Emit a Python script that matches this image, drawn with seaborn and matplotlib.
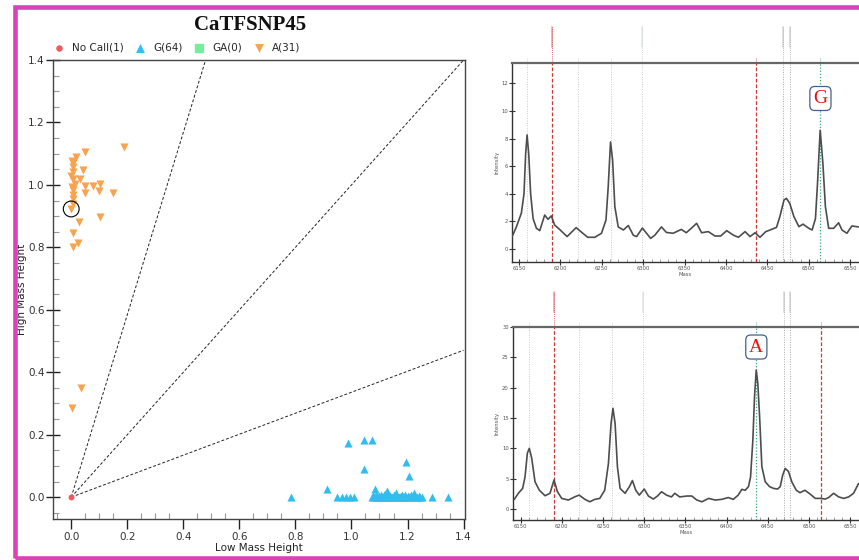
import matplotlib
matplotlib.use('Agg')
import matplotlib.pyplot as plt
import matplotlib.patches as patches
from matplotlib.ticker import MultipleLocator
import seaborn as sns
import pandas as pd

# cluster plot data (low mass height, high mass height)
a_x = [0.189, 0.049, 0.018, 0.005, 0.005, 0.042, 0.005, 0.032, 0.005, 0.014, 0.050,
       0.077, 0.104, 0.098, 0.050, 0.005, 0.149, 0.005, 0.005, 0.000, 0.104, 0.027,
       0.005, 0.025, 0.005, 0.002, 0.035, 0.000, 0.002, 0.008, 0.003]
a_y = [1.123, 1.107, 1.091, 1.069, 1.057, 1.048, 1.040, 1.018, 1.020, 1.003, 0.997,
       0.995, 1.003, 0.982, 0.973, 0.985, 0.973, 0.968, 0.955, 0.923, 0.898, 0.882,
       0.847, 0.815, 0.802, 0.286, 0.348, 1.030, 0.993, 0.940, 1.078]
g_x = [0.785, 0.912, 0.989, 1.046, 1.073, 1.044, 1.196, 1.206, 1.085, 1.127, 1.160, 1.223, 1.289, 1.346,
       0.950, 0.965, 0.980, 0.995, 1.010,
       1.075, 1.078, 1.082, 1.086, 1.090, 1.094, 1.098, 1.100, 1.104, 1.108,
       1.112, 1.115, 1.118, 1.120, 1.124, 1.128, 1.132, 1.135, 1.138, 1.142,
       1.146, 1.150, 1.153, 1.156, 1.160, 1.164, 1.168, 1.172, 1.176, 1.180,
       1.184, 1.188, 1.192, 1.196, 1.200, 1.205, 1.210, 1.214, 1.218, 1.222,
       1.228, 1.234, 1.240, 1.246, 1.252]
g_y = [0.000, 0.026, 0.173, 0.182, 0.182, 0.089, 0.113, 0.068, 0.025, 0.020, 0.012, 0.012, 0.000, 0.000,
       0.000, 0.000, 0.002, 0.000, 0.000,
       0.000, 0.004, 0.000, 0.006, 0.002, 0.000, 0.004, 0.000, 0.008, 0.002,
       0.000, 0.006, 0.010, 0.004, 0.000, 0.002, 0.006, 0.000, 0.004, 0.000,
       0.002, 0.008, 0.000, 0.004, 0.006, 0.000, 0.002, 0.000, 0.004, 0.008,
       0.000, 0.002, 0.006, 0.000, 0.004, 0.002, 0.000, 0.008, 0.004, 0.000,
       0.002, 0.000, 0.004, 0.000, 0.000]
nocall_x = [0.0]
nocall_y = [0.0]
selected_x = [0.0]
selected_y = [0.923]
boundary_slopes = [2.92, 1.0, 0.336]
legend_labels = ['No Call(1)', 'G(64)', 'GA(0)', 'A(31)']

# mass spectra (mass, intensity)
mass_g = [6140.7, 6146.8, 6152.8, 6156, 6158, 6159.7, 6161.7, 6164, 6167, 6171, 6175, 6181, 6185,
          6189, 6193, 6199, 6208, 6219, 6227, 6233, 6241.5, 6249.6, 6255, 6257.7, 6260.5, 6263,
          6265.7, 6269.8, 6276, 6282, 6288, 6292, 6299, 6304, 6309, 6314, 6322, 6328, 6336, 6346,
          6352, 6358, 6364.5, 6370.5, 6378.6, 6386.7, 6393.5, 6400.8, 6408.9, 6415, 6423, 6429,
          6435, 6441, 6448, 6455, 6461, 6465, 6470, 6473, 6477, 6482, 6488, 6493, 6500, 6504,
          6508, 6510.5, 6513.7, 6517, 6520, 6524, 6530, 6536, 6540, 6546, 6552, 6560]
int_g = [0.77, 1.6, 2.6, 4.0, 6.9, 8.26, 6.9, 4.0, 2.2, 1.5, 1.33, 2.46, 2.15, 2.4, 1.74, 1.42,
         0.9, 1.55, 1.14, 0.85, 0.85, 1.14, 2.1, 4.5, 7.75, 6.45, 3.07, 1.6, 1.38, 1.7, 1.0, 0.9,
         1.52, 1.14, 0.77, 1.0, 1.6, 1.2, 1.14, 1.42, 1.18, 1.5, 1.86, 1.18, 1.26, 0.94, 0.94,
         1.33, 1.0, 0.85, 1.26, 0.9, 1.18, 0.85, 1.26, 1.42, 1.57, 2.34, 3.55, 3.67, 3.3, 2.34,
         1.62, 1.8, 1.5, 1.38, 2.2, 4.76, 8.6, 6.2, 3.07, 1.5, 1.5, 1.9, 1.38, 1.14, 1.67, 1.6]
mass_a = [6142.3, 6147.2, 6152.4, 6155.3, 6158.1, 6160.5, 6163.4, 6167.4, 6172.7, 6179.6, 6185.6,
          6190.5, 6194.5, 6199.8, 6207.9, 6216, 6221, 6228, 6234, 6240, 6246, 6252, 6256.5, 6259.7,
          6262, 6264.6, 6267.4, 6270.7, 6276.7, 6282, 6285.6, 6289.7, 6294, 6300, 6305, 6311, 6316,
          6321, 6327, 6333, 6337, 6343, 6351.6, 6357.7, 6363.8, 6370, 6378, 6386, 6394, 6402, 6408,
          6414, 6418.4, 6422.5, 6426.5, 6429, 6431.8, 6433.8, 6435.9, 6437.8, 6440, 6442.7, 6446.8,
          6452, 6457, 6461.8, 6465, 6468, 6471, 6475, 6479, 6484.5, 6489, 6495, 6501, 6507.5,
          6513.6, 6519.7, 6523.7, 6529.8, 6536, 6542, 6548, 6554, 6560]
int_a = [1.6, 2.6, 3.4, 5.3, 9.2, 10.0, 8.4, 4.5, 3.1, 2.2, 2.6, 4.8, 2.9, 1.76, 1.49, 2.04, 2.3,
         1.6, 1.2, 1.6, 1.76, 3.1, 7.5, 14.1, 16.6, 14.1, 7.0, 3.4, 2.6, 3.7, 4.7, 3.1, 2.3, 3.3,
         2.15, 1.65, 2.15, 2.86, 2.3, 2.0, 2.6, 2.0, 2.15, 2.15, 1.49, 1.2, 1.76, 1.49, 1.6, 1.9,
         1.6, 2.3, 3.25, 3.1, 3.7, 5.3, 11.4, 18.5, 22.9, 20.7, 15.2, 7.0, 4.5, 3.7, 3.4, 3.3, 3.7,
         5.6, 6.7, 6.2, 4.5, 3.1, 2.7, 3.1, 2.5, 1.76, 1.76, 1.65, 1.9, 2.6, 2.0, 1.76, 2.0, 2.6, 4.2]
marker_mass = [6160, 6190, 6221, 6261, 6299, 6436, 6469, 6477, 6514]
marker_labelled = [False, True, False, False, True, False, True, True, False]

RED = '#cc3b3b'
GREEN = '#3aa57a'
LIGHT = '#c4cccc'
GREYL = '#a8a8a8'
top_marker_colors = [LIGHT, RED, LIGHT, LIGHT, LIGHT, RED, GREYL, GREYL, GREEN]
bot_marker_colors = [LIGHT, RED, LIGHT, LIGHT, LIGHT, GREEN, GREYL, GREYL, RED]

sns.set_theme(style='white')
plt.rcParams['font.family'] = ['DejaVu Sans']

fig = plt.figure(figsize=(8.59, 5.60), dpi=100)

# ---------------- cluster plot ----------------
ax = fig.add_axes([0.0617, 0.0732, 0.4796, 0.8196])
for s in boundary_slopes:
    x_end = min(1.4, 1.4 / s)
    ax.plot([0, x_end], [0, x_end * s], color='#222222', lw=0.7, ls=(0, (3, 2)), zorder=1)

sns.scatterplot(x=nocall_x, y=nocall_y, ax=ax, marker='o', color='#ee5a5e', s=18,
                linewidth=0, label=legend_labels[0], zorder=3)
sns.scatterplot(x=g_x, y=g_y, ax=ax, marker='^', color='#33bdee', s=34,
                linewidth=0, label=legend_labels[1], zorder=3)
ax.scatter([], [], marker='s', color='#74ee9c', s=34, label=legend_labels[2])
sns.scatterplot(x=a_x, y=a_y, ax=ax, marker='v', color='#f7a34f', s=34,
                linewidth=0, label=legend_labels[3], zorder=3)
ax.scatter(selected_x, selected_y, marker='o', s=130, facecolors='none',
           edgecolors='black', linewidths=0.8, zorder=4)

handles, labels = ax.get_legend_handles_labels()
order = [labels.index(l) for l in legend_labels]
ax.legend([handles[i] for i in order], legend_labels, loc='lower left',
          bbox_to_anchor=(-0.025, 1.003), ncol=4, frameon=False, fontsize=7.5,
          handletextpad=0.25, columnspacing=0.6, borderaxespad=0.15, markerscale=1.1)

ax.set_xlim(-0.065, 1.405)
ax.set_ylim(-0.07, 1.4)
ax.xaxis.set_major_locator(MultipleLocator(0.2))
ax.yaxis.set_major_locator(MultipleLocator(0.2))
ax.xaxis.set_minor_locator(MultipleLocator(0.05))
ax.yaxis.set_minor_locator(MultipleLocator(0.05))
ax.xaxis.set_major_formatter(matplotlib.ticker.FormatStrFormatter('%.1f'))
ax.yaxis.set_major_formatter(matplotlib.ticker.FormatStrFormatter('%.1f'))
ax.tick_params(axis='x', which='major', direction='out', length=7, width=1,
               color='#222222', labelsize=7.5, labelcolor='#333333', pad=2, bottom=True)
ax.tick_params(axis='y', which='major', direction='inout', length=10, width=1,
               color='#222222', labelsize=7.5, labelcolor='#333333', pad=1, left=True)
ax.tick_params(which='minor', direction='in', length=4, width=0.8, color='#999999',
               bottom=True, left=True)
for sp in ax.spines.values():
    sp.set_color('#444444')
    sp.set_linewidth(1.0)
ax.set_xlabel('Low Mass Height', fontsize=7.5, color='#222222')
ax.set_ylabel('High Mass Height', fontsize=7.5, color='#222222')
ax.xaxis.set_label_coords(0.5, -0.052)
ax.yaxis.set_label_coords(-0.063, 0.5)

fig.text(250 / 859, 1 - 25 / 560, 'CaTFSNP45', family='Liberation Serif',
         fontweight='bold', fontsize=15, ha='center', va='center', color='#111111')


# ---------------- spectra ----------------
def draw_spectrum(rect, mass, inten, xlim, ylim, ystep, colors, letter, letter_xy):
    sax = fig.add_axes(rect)
    df = pd.DataFrame({'Mass': mass, 'Intensity': inten})
    for m, c, lab in zip(marker_mass, colors, marker_labelled):
        ls = (0, (3, 1.5)) if c == RED else (0, (1, 1.5))
        sax.axvline(m, color=c, lw=0.9 if c in (RED, GREEN) else 0.7, ls=ls, zorder=1)
        top = 1.18 if lab else 1.03
        sax.axvline(m, ymin=1.0, ymax=top, color=c, lw=0.6, ls=(0, (1, 1.5)), clip_on=False)
        if lab:
            sax.axvline(m, ymin=1.08, ymax=1.18, color=c, lw=1.3, alpha=0.4, clip_on=False)
    sns.lineplot(data=df, x='Mass', y='Intensity', ax=sax, color='#4d4d4d', lw=1.2,
                 sort=False, estimator=None, zorder=3)
    sax.set_xlim(*xlim)
    sax.set_ylim(*ylim)
    sax.xaxis.set_major_locator(MultipleLocator(50))
    sax.xaxis.set_minor_locator(MultipleLocator(10))
    sax.yaxis.set_major_locator(MultipleLocator(ystep))
    sax.tick_params(which='major', direction='inout', length=4, width=0.8, color='#333333',
                    labelsize=3.8, labelcolor='#555555', pad=1, bottom=True, left=True)
    sax.tick_params(which='minor', axis='x', direction='in', length=2, width=0.5,
                    color='#777777', bottom=True)
    sax.spines['right'].set_visible(False)
    sax.spines['left'].set_color('#333333')
    sax.spines['bottom'].set_color('#333333')
    sax.spines['left'].set_linewidth(1.0)
    sax.spines['bottom'].set_linewidth(1.0)
    sax.spines['top'].set_color('#666666')
    sax.spines['top'].set_linewidth(1.6)
    sax.set_xlabel('Mass', fontsize=3.8, color='#555555', labelpad=0.5)
    sax.set_ylabel('Intensity', fontsize=3.8, color='#555555', labelpad=1.5)
    sax.text(letter_xy[0], letter_xy[1], letter, family='Liberation Serif', fontsize=14,
             color='#ee1111', ha='center', va='center', zorder=5,
             bbox=dict(boxstyle='round,pad=0.18,rounding_size=0.25', fc='white',
                       ec='#44608f', lw=0.9))
    return sax


draw_spectrum([512 / 859, 1 - 262 / 560, 1 - 512 / 859, 199 / 560], mass_g, int_g,
              (6141.5, 6560.6), (-0.94, 13.47), 2, top_marker_colors, 'G', (6514, 10.9))
draw_spectrum([513 / 859, 1 - 520 / 560, 1 - 513 / 859, 193 / 560], mass_a, int_a,
              (6140.7, 6560.6), (-1.8, 30.0), 5, bot_marker_colors, 'A', (6436, 26.7))

# magenta frame around the whole panel
fig.patches.append(patches.Rectangle((14.5 / 859, 2.5 / 560), 1.2, 1 - 9 / 560,
                                     transform=fig.transFigure, fill=False,
                                     ec='#da42b8', lw=3.3, clip_on=False))

fig.savefig('out.png', dpi=100)
